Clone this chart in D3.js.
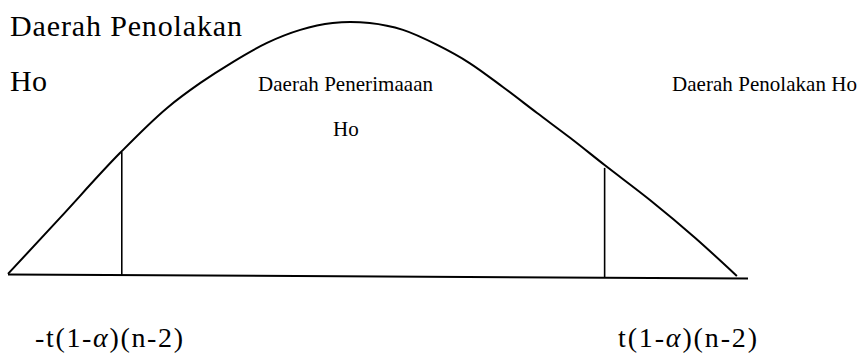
<!DOCTYPE html>
<html>
<head>
<meta charset="utf-8">
<script src="https://cdn.jsdelivr.net/npm/d3@7"></script>
<style>
  body { margin: 0; background: #fff; }
  text { font-family: "Liberation Serif", "Times New Roman", serif; fill: #000; }
</style>
</head>
<body>
<div id="chart"></div>
<script>
var width = 860;
var height = 356;

// curve (t value, relative height)
var curveT = [-4.00, -3.44, -2.79, -2.28, -1.92, -1.57, -1.20, -0.84, -0.49, -0.30, -0.09,
              0.27, 0.64, 0.99, 1.35, 1.72, 2.08, 2.45, 2.94, 3.43, 3.88];
var curveY = [0.012, 0.231, 0.486, 0.663, 0.761, 0.843, 0.918, 0.969, 0.996, 1.000, 0.996,
              0.969, 0.910, 0.839, 0.745, 0.643, 0.545, 0.439, 0.302, 0.153, 0.004];

// horizontal axis ends (slightly tilted in the original)
var baseT = [-4.00, 4.00];
var baseY = [0.010, -0.006];

// critical values
var critT = [-2.77, 2.45];
var critTop = [0.490, 0.428];

var xScale = d3.scaleLinear().domain([-4, 4]).range([8, 748]);
var yScale = d3.scaleLinear().domain([0, 1]).range([277, 22]);

var baseAt = d3.scaleLinear().domain(baseT).range(baseY);

var svg = d3.select("#chart")
            .append("svg")
            .attr("width", width)
            .attr("height", height);

// baseline
var line = d3.line()
    .x(function(d) { return xScale(d[0]); })
    .y(function(d) { return yScale(d[1]); });

svg.append("path")
    .attr("d", line(d3.zip(baseT, baseY)))
    .attr("fill", "none")
    .attr("stroke", "#000")
    .attr("stroke-width", 2);

// the curve
var curve = d3.line()
    .x(function(d) { return xScale(d[0]); })
    .y(function(d) { return yScale(d[1]); })
    .curve(d3.curveMonotoneX);

svg.append("path")
    .attr("d", curve(d3.zip(curveT, curveY)))
    .attr("fill", "none")
    .attr("stroke", "#000")
    .attr("stroke-width", 2);

// critical lines
svg.selectAll(".crit")
    .data(critT)
    .enter()
    .append("line")
    .attr("class", "crit")
    .attr("x1", function(d) { return xScale(d); })
    .attr("x2", function(d) { return xScale(d); })
    .attr("y1", function(d) { return yScale(baseAt(d)); })
    .attr("y2", function(d, i) { return yScale(critTop[i]); })
    .attr("stroke", "#000")
    .attr("stroke-width", 1.6);

// region labels
svg.append("text").attr("x", 10).attr("y", 36)
    .style("font-size", "30px").attr("textLength", 232).attr("lengthAdjust", "spacing")
    .text("Daerah Penolakan");
svg.append("text").attr("x", 10).attr("y", 91)
    .style("font-size", "30px").attr("textLength", 37).attr("lengthAdjust", "spacing")
    .text("Ho");

svg.append("text").attr("x", 258).attr("y", 91)
    .style("font-size", "21px").attr("textLength", 175).attr("lengthAdjust", "spacing")
    .text("Daerah Penerimaaan");
svg.append("text").attr("x", 333).attr("y", 136)
    .style("font-size", "21px")
    .text("Ho");

svg.append("text").attr("x", 672).attr("y", 91)
    .style("font-size", "21px").attr("textLength", 185).attr("lengthAdjust", "spacing")
    .text("Daerah Penolakan Ho");

// critical value labels
function critLabel(x, prefix, len) {
    var t = svg.append("text").attr("x", x).attr("y", 347)
        .style("font-size", "28px")
        .attr("textLength", len).attr("lengthAdjust", "spacing");
    t.append("tspan").text(prefix + "t(1-");
    t.append("tspan").style("font-style", "italic").text("\u03b1");
    t.append("tspan").text(")(n-2)");
}
critLabel(35, "-", 148);
critLabel(618, "", 139);
</script>
</body>
</html>
